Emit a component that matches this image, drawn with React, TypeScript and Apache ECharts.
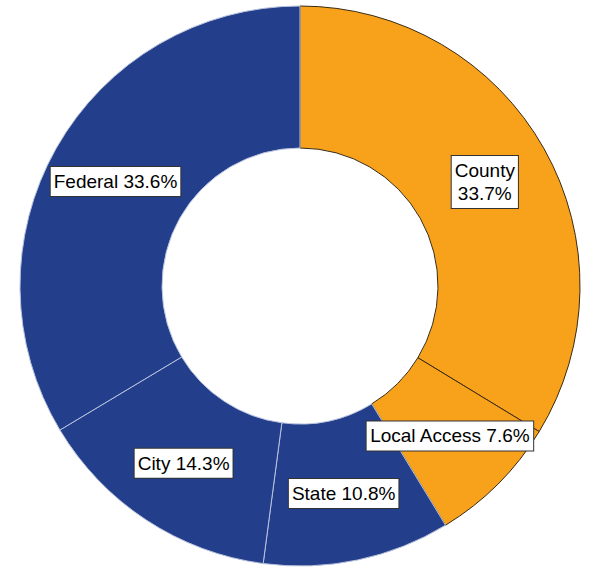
import React, { useEffect, useRef } from "react";
import * as echarts from "echarts";

const categories = ["County", "Local Access", "State", "City", "Federal"];
const values = [33.7, 7.6, 10.8, 14.3, 33.6];
const colors = ["#F8A21C", "#F8A21C", "#233F8B", "#233F8B", "#233F8B"];
const borderColors = ["#3a2a12", "#3a2a12", "#b8c2de", "#b8c2de", "#b8c2de"];

export default function App() {
  const ref = useRef<HTMLDivElement>(null);
  useEffect(() => {
    document.body.style.margin = "0";
    const chart = echarts.init(ref.current!, null, { renderer: "svg" });
    chart.setOption({
      animation: false,
      backgroundColor: "#ffffff",
      series: [
        {
          type: "pie",
          center: [300, 286],
          radius: [138, 280],
          startAngle: 90,
          clockwise: true,
          avoidLabelOverlap: false,
          label: {
            show: true,
            position: "inside",
            fontFamily: "Liberation Sans, Arial, sans-serif",
            fontSize: 19,
            color: "#000",
            backgroundColor: "#fff",
            borderColor: "#333",
            borderWidth: 1,
            padding: [4, 3, 2, 3],
            lineHeight: 23,
            align: "center",
            formatter: (p: any) =>
              p.name === "County"
                ? `${p.name}\n${p.value.toFixed(1)}%`
                : `${p.name} ${p.value.toFixed(1)}%`,
          },
          labelLine: { show: false },
          emphasis: { disabled: true },
          data: categories.map((c, i) => ({
            name: c,
            value: values[i],
            itemStyle: {
              color: colors[i],
              borderColor: borderColors[i],
              borderWidth: 1,
            },
          })),
        },
      ],
    });
    return () => chart.dispose();
  }, []);
  return (
    <div
      ref={ref}
      style={{ position: "fixed", left: 0, top: 0, width: 590, height: 567 }}
    />
  );
}
